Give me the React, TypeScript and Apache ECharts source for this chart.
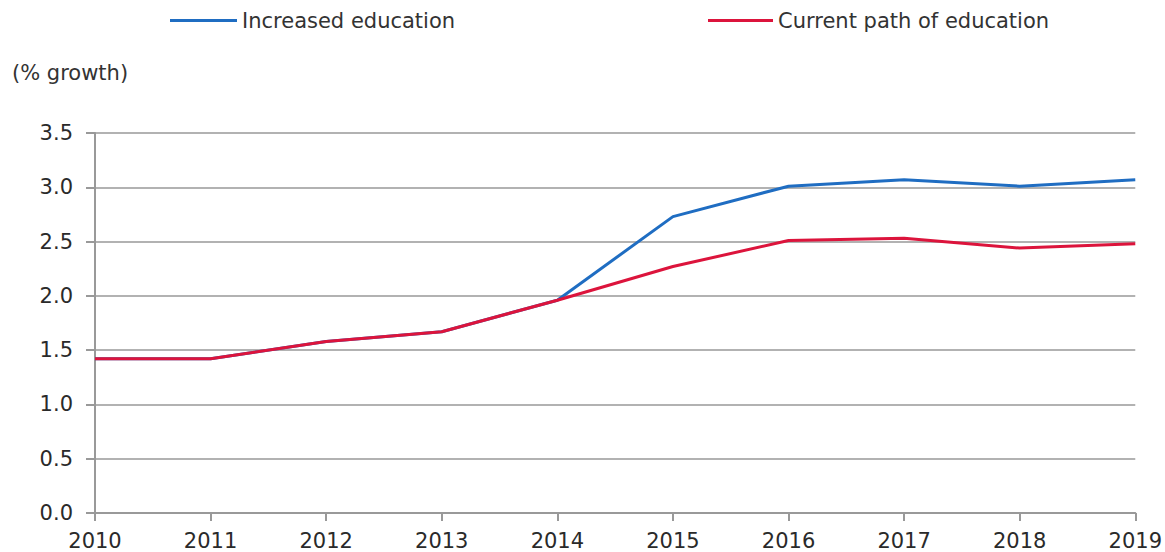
import React, { useEffect, useRef } from "react";
import * as echarts from "echarts";

const years = ["2010", "2011", "2012", "2013", "2014", "2015", "2016", "2017", "2018", "2019"];
const increasedEducation = [1.42, 1.42, 1.58, 1.67, 1.96, 2.73, 3.01, 3.07, 3.01, 3.07];
const currentPath = [1.42, 1.42, 1.58, 1.67, 1.96, 2.27, 2.51, 2.53, 2.44, 2.48];
const seriesNames = ["Increased education", "Current path of education"];
const yTitle = "(% growth)";

const FONT = "DejaVu Sans";

export default function App() {
  const ref = useRef<HTMLDivElement>(null);
  useEffect(() => {
    if (!ref.current) return;
    const chart = echarts.init(ref.current, undefined, { renderer: "svg" });
    const legendText = { fontFamily: FONT, fontSize: 21, color: "#333" };
    chart.setOption({
      animation: false,
      backgroundColor: "#fff",
      legend: [
        {
          data: [seriesNames[0]],
          left: 165,
          top: 5,
          icon: "rect",
          itemWidth: 67,
          itemHeight: 3,
          itemGap: 5,
          textStyle: legendText,
        },
        {
          data: [seriesNames[1]],
          left: 703,
          top: 5,
          icon: "rect",
          itemWidth: 65,
          itemHeight: 3,
          textStyle: legendText,
        },
      ],
      graphic: [
        {
          type: "text",
          left: 12,
          top: 62,
          style: { text: yTitle, fontFamily: FONT, fontSize: 21, fill: "#333" },
        },
      ],
      grid: { left: 95, right: 29, top: 133, bottom: 39, containLabel: false },
      xAxis: {
        type: "category",
        data: years,
        boundaryGap: false,
        axisLine: { lineStyle: { color: "#999", width: 2 } },
        axisTick: { show: true, length: 8, alignWithLabel: true, lineStyle: { color: "#999", width: 2 } },
        axisLabel: { fontFamily: FONT, fontSize: 21, color: "#2a2a2a", margin: 17, showMaxLabel: true, showMinLabel: true },
        splitLine: { show: false },
      },
      yAxis: {
        type: "value",
        min: 0,
        max: 3.5,
        interval: 0.5,
        axisLine: { show: true, lineStyle: { color: "#999", width: 2 } },
        axisTick: { show: true, length: 9, lineStyle: { color: "#999", width: 2 } },
        axisLabel: {
          fontFamily: FONT,
          fontSize: 21,
          color: "#2a2a2a",
          margin: 22,
          formatter: (v: number) => v.toFixed(1),
        },
        splitLine: { show: true, lineStyle: { color: "#999", width: 1.5 } },
      },
      series: [
        {
          name: seriesNames[0],
          type: "line",
          data: increasedEducation,
          symbol: "none",
          lineStyle: { color: "#1f6dc2", width: 3 },
          itemStyle: { color: "#1f6dc2" },
        },
        {
          name: seriesNames[1],
          type: "line",
          data: currentPath,
          symbol: "none",
          lineStyle: { color: "#dc143c", width: 3 },
          itemStyle: { color: "#dc143c" },
        },
      ],
    });
    return () => chart.dispose();
  }, []);
  return (
    <div
      ref={ref}
      style={{ position: "fixed", left: 0, top: 0, width: 1165, height: 552, background: "#fff" }}
    />
  );
}
